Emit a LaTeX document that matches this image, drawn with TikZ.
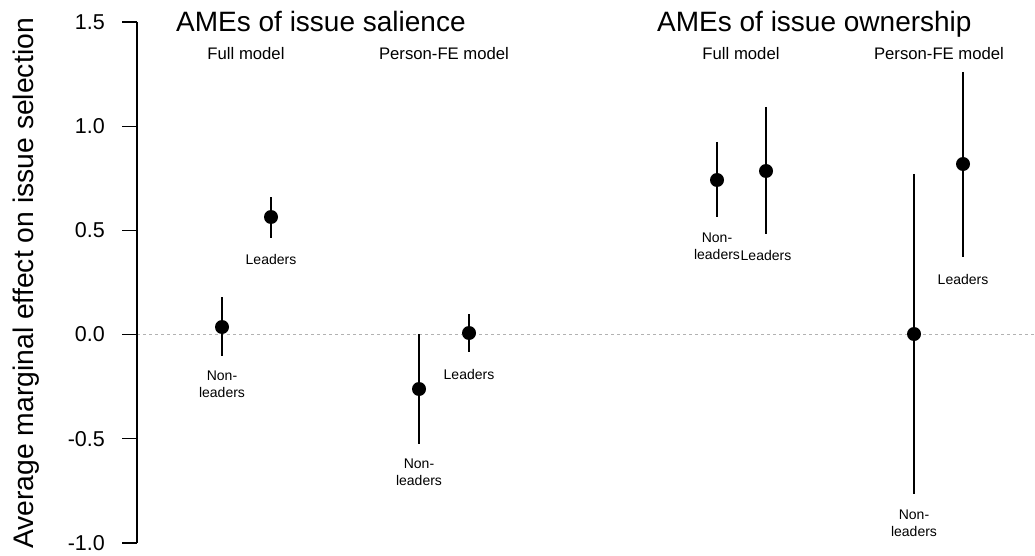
\documentclass[tikz,border=0pt]{standalone}
\usepackage{fontspec}
\setmainfont{Liberation Sans}
\begin{document}
\begin{tikzpicture}[x=1pt,y=-1pt,
  ci/.style={line width=2pt},
  est/.style={circle,fill=black,inner sep=0pt,minimum size=14pt},
  ptlab/.style={font=\fontsize{14}{17}\selectfont,align=center,inner sep=0pt},
  ticklab/.style={font=\fontsize{21.5}{24}\selectfont,anchor=east,inner sep=0pt},
  tickline/.style={line width=1.3pt},
  title/.style={font=\fontsize{28}{32}\selectfont,anchor=base west,inner sep=0pt},
  subtitle/.style={font=\fontsize{16.7}{20}\selectfont,anchor=base,inner sep=0pt},
  zeroline/.style={gray!60,line width=1pt,dash pattern=on 3pt off 3pt}
]
\useasboundingbox (0,0) rectangle (1035,556);

% zero reference line
\coordinate (z0) at (137,334.5);
\coordinate (z1) at (1035,334.5);
\draw[zeroline] (z0) -- (z1);

% axis
\coordinate (ax0) at (137,22);
\coordinate (ax1) at (137,543);
\draw[tickline] (ax0) -- (ax1);
\foreach \i/\v/\y in {a/1.5/22,b/1.0/126.2,c/0.5/230.4,d/0.0/334.5,e/-0.5/438.7,f/-1.0/543}{
  \coordinate (tk\i) at (122,\y);
  \coordinate (tke\i) at (137,\y);
  \draw[tickline] (tk\i) -- (tke\i);
  \node[ticklab] (tl\i) at (105,\y) {\v};
}
\node[font=\fontsize{28.3}{31}\selectfont,rotate=90,anchor=base,inner sep=0pt] (ylab) at (33,283.5) {Average marginal effect on issue selection};

% titles
\node[title] (ti1) at (176,32) {AMEs of issue salience};
\node[title] (ti2) at (657,32) {AMEs of issue ownership};
\node[subtitle] (s1) at (246,60) {Full model};
\node[subtitle] (s2) at (444,60) {Person-FE model};
\node[subtitle] (s3) at (741,60) {Full model};
\node[subtitle] (s4) at (939,60) {Person-FE model};

% estimates with confidence intervals
\foreach \n/\x/\e/\t/\b in {1/222/327/297/356, 2/271/217/197/238, 3/419/389/334/444, 4/469/333/314/352,
                            5/717/180/142/217, 6/766/171/107/234, 7/914/334/174/494, 8/963/164/72/257}{
  \coordinate (hi\n) at (\x,\t);
  \coordinate (lo\n) at (\x,\b);
  \draw[ci] (hi\n) -- (lo\n);
  \node[est] (p\n) at (\x,\e) {};
}

% point labels
\node[ptlab] (l1) at (222,384) {Non-\\leaders};
\node[ptlab] (l2) at (271,259) {Leaders};
\node[ptlab] (l3) at (419,472.5) {Non-\\leaders};
\node[ptlab] (l4) at (469,374) {Leaders};
\node[ptlab] (l5) at (717,246.5) {Non-\\leaders};
\node[ptlab] (l6) at (766,255) {Leaders};
\node[ptlab] (l7) at (914,523.5) {Non-\\leaders};
\node[ptlab] (l8) at (963,279) {Leaders};
\end{tikzpicture}
\end{document}
